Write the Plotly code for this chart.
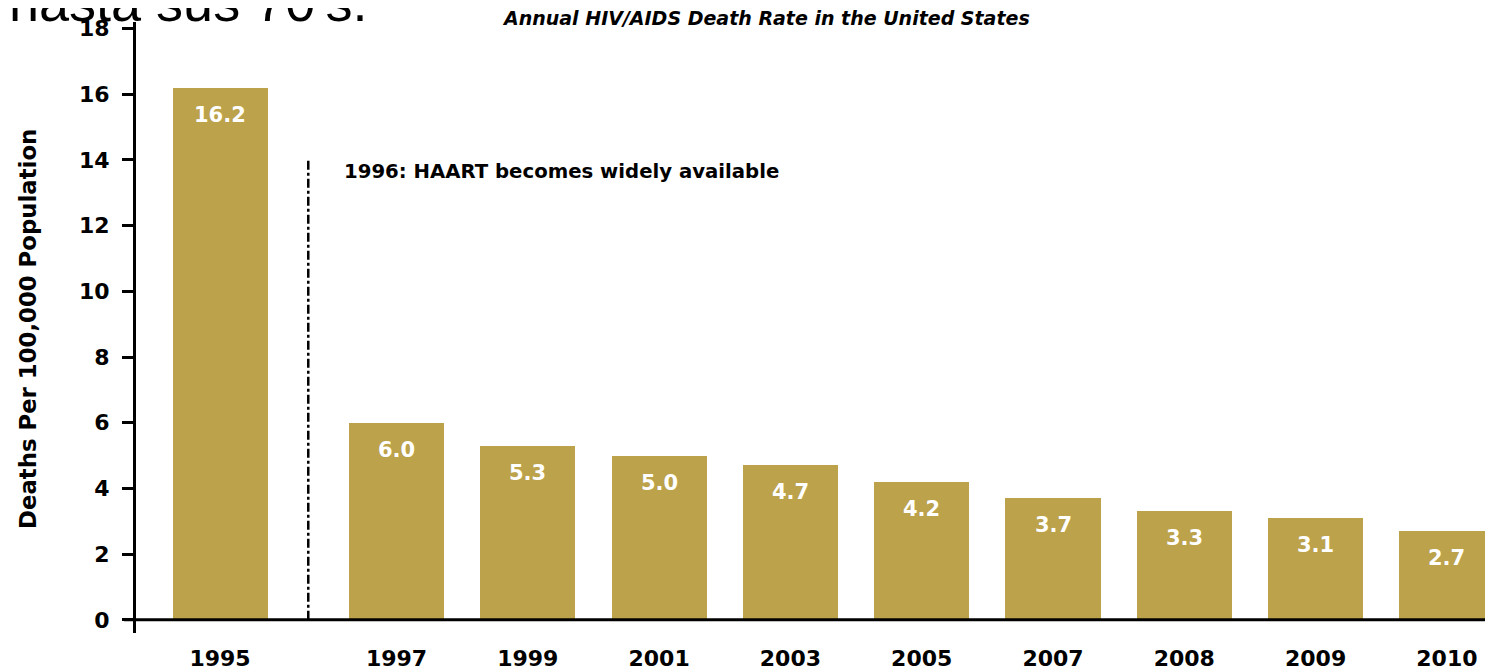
import plotly.graph_objects as go

years = ["1995", "1997", "1999", "2001", "2003", "2005", "2007", "2008", "2009", "2010"]
death_rate = [16.2, 6.0, 5.3, 5.0, 4.7, 4.2, 3.7, 3.3, 3.1, 2.7]
rate_labels = ["16.2", "6.0", "5.3", "5.0", "4.7", "4.2", "3.7", "3.3", "3.1", "2.7"]
y_ticks = [0, 2, 4, 6, 8, 10, 12, 14, 16, 18]
haart_year_label = "1996: HAART becomes widely available"
haart_line_top = 14

# layout: extra gap after the first bar (1996 missing)
GAP = 0.344
pos = [i + (GAP if i > 0 else 0) for i in range(len(years))]
haart_pos = (pos[0] + pos[1]) / 2

BAR = "#bca24a"
FONT = "DejaVu Sans"

fig = go.Figure()
fig.add_trace(go.Bar(
    x=pos, y=death_rate, width=0.724, marker=dict(color=BAR, line=dict(width=0)),
    hoverinfo="skip",
))

# value labels inside bars
for p, v, t in zip(pos, death_rate, rate_labels):
    fig.add_annotation(x=p, y=v, text=t, showarrow=False, yshift=-27,
                       yanchor="middle", font=dict(family=FONT, size=21, color="white", weight="bold"))

# HAART line
fig.add_shape(type="line", xref="x", yref="y", x0=haart_pos, x1=haart_pos, y0=0, y1=haart_line_top,
              line=dict(color="black", width=2.5, dash="dashdot"))
fig.add_annotation(x=haart_pos, y=haart_line_top, text=haart_year_label, showarrow=False,
                   xanchor="left", yanchor="middle", xshift=34, yshift=-12,
                   font=dict(family=FONT, size=19.7, color="black", weight="bold"))

# x axis line at zero, overhanging left
fig.add_shape(type="line", xref="paper", yref="y", x0=-0.0088, x1=1, y0=0, y1=0,
              line=dict(color="black", width=3))

# chart title
fig.add_annotation(xref="paper", yref="paper", x=0.4643, y=1.0065, text="Annual HIV/AIDS Death Rate in the United States",
                   showarrow=False, xanchor="center", yanchor="middle",
                   font=dict(family=FONT, size=19, color="black", weight="bold", style="italic"))

# y axis title
fig.add_annotation(xref="paper", yref="paper", x=-0.0796, y=0.4976, text="Deaths Per 100,000 Population",
                   showarrow=False, textangle=-90, xanchor="center", yanchor="middle",
                   font=dict(family=FONT, size=22.8, color="black", weight="bold"))

# cropped slide text
fig.add_annotation(xref="paper", yref="paper", x=(7 - 136) / 1357, y=(635 - 34) / 613, text="hasta sus 70's.",
                   showarrow=False, xanchor="left", yanchor="bottom",
                   font=dict(family="Liberation Sans", size=54, color="black"))

fig.update_layout(
    width=1485, height=663,
    margin=dict(l=128, r=0, t=14, b=36),
    paper_bgcolor="white", plot_bgcolor="white",
    showlegend=False, bargap=0,
    xaxis=dict(range=[-0.64, 9.695], tickmode="array", tickvals=pos, ticktext=years,
               showgrid=False, zeroline=False, showline=False, ticks="",
               ticklabelstandoff=10,
               tickfont=dict(family=FONT, size=22, color="black", weight="bold")),
    yaxis=dict(range=[-0.4, 18.2], tickmode="array", tickvals=y_ticks,
               showgrid=False, zeroline=False, showline=True, linecolor="black", linewidth=3,
               ticks="outside", ticklen=11, tickwidth=3, tickcolor="black",
               ticklabelstandoff=8,
               tickfont=dict(family=FONT, size=22, color="black", weight="bold")),
)

fig.write_html("out.html")
